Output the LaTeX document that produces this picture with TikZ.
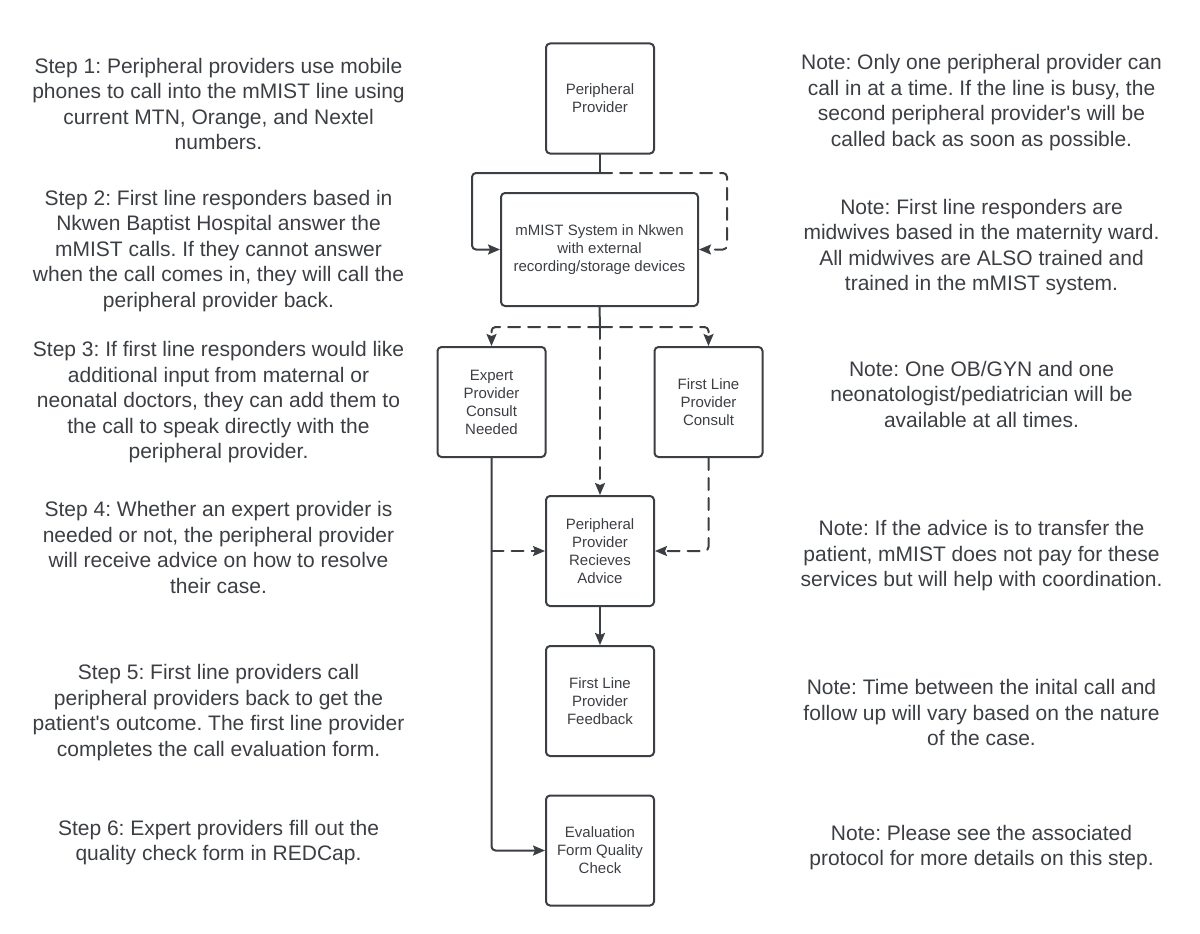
\documentclass[tikz,border=0pt]{standalone}
\usepackage{fontspec}
\setmainfont{Liberation Sans}
\usetikzlibrary{arrows.meta}
\definecolor{ink}{HTML}{3B3E43}
\frenchspacing
\begin{document}
\begin{tikzpicture}[x=1pt, y=-1pt, line join=round, line cap=round,
 >={Stealth[length=12pt,width=10pt,inset=2pt]},
 box/.style={draw=ink, line width=2pt, rounded corners=4pt, minimum width=108pt, minimum height=110pt,
  align=center, text=ink, inner sep=2pt, font=\fontsize{15}{18}\selectfont},
 side/.style={align=center, text=ink, font=\fontsize{21}{25.5}\selectfont},
 link/.style={draw=ink, line width=2pt, rounded corners=4pt, ->},
 dlink/.style={link, dash pattern=on 12pt off 8pt}]
 \useasboundingbox (0,0) rectangle (1200,934);
 % flow boxes
 \node[box] (pp) at (600,98.5) {Peripheral\\Provider};
 \node[box, minimum width=197pt, minimum height=113pt] (mm) at (599.5,249.5) {mMIST System in Nkwen\\with external\\recording/storage devices};
 \node[box] (ex) at (491.5,402) {Expert\\Provider\\Consult\\Needed};
 \node[box] (fc) at (708.5,402) {First Line\\Provider\\Consult};
 \node[box] (ra) at (600,551) {Peripheral\\Provider\\Recieves\\Advice};
 \node[box] (fb) at (600,701) {First Line\\Provider\\Feedback};
 \node[box] (ev) at (600,850.5) {Evaluation\\Form Quality\\Check};
 \coordinate (sp1) at (600,173);
 \coordinate (sp2) at (600,327);
 % connectors
 \draw[link,-] (pp.south) -- (sp1);
 \draw[link] (sp1) -| ([xshift=-28pt]mm.west) -- (mm.west);
 \draw[dlink] (sp1) -| ([xshift=28pt]mm.east) -- (mm.east);
 \draw[link,-] (mm.south) -- (sp2);
 \draw[dlink] (sp2) -| (ex.north);
 \draw[dlink] (sp2) -| (fc.north);
 \draw[dlink] (sp2) -- (ra.north);
 \draw[link] (ex.south) |- (ev.west);
 \draw[dlink] (ex.south |- ra.west) -- (ra.west);
 \draw[dlink] (fc.south) |- (ra.east);
 \draw[link] (ra.south) -- (fb.north);
 % steps
 \node[side] (s1) at (218.5,104) {Step 1: Peripheral providers use mobile\\phones to call into the mMIST line using\\current MTN, Orange, and Nextel\\numbers.};
 \node[side] (s2) at (218.5,251) {Step 2: First line responders based in\\Nkwen Baptist Hospital answer the\\mMIST calls. If they cannot answer\\when the call comes in, they will call the\\peripheral provider back.};
 \node[side] (s3) at (218.5,402.5) {Step 3: If first line responders would like\\additional input from maternal or\\neonatal doctors, they can add them to\\the call to speak directly with the\\peripheral provider.};
 \node[side] (s4) at (218.5,547.5) {Step 4: Whether an expert provider is\\needed or not, the peripheral provider\\will receive advice on how to resolve\\their case.};
 \node[side] (s5) at (218.5,712.5) {Step 5: First line providers call\\peripheral providers back to get the\\patient\textquotesingle s outcome. The first line provider\\completes the call evaluation form.};
 \node[side] (s6) at (218.5,842.5) {Step 6: Expert providers fill out the\\quality check form in REDCap.};
 % notes
 \node[side] (n1) at (981.5,102.5) {Note: Only one peripheral provider can\\call in at a time. If the line is busy, the\\second peripheral provider\textquotesingle s will be\\called back as soon as possible.};
 \node[side] (n2) at (981.5,247) {Note: First line responders are\\midwives based in the maternity ward.\\All midwives are ALSO trained and\\trained in the mMIST system.};
 \node[side] (n3) at (981.5,394) {Note: One OB/GYN and one\\neonatologist/pediatrician will be\\available at all times.};
 \node[side] (n4) at (981.5,556) {Note: If the advice is to transfer the\\patient, mMIST does not pay for these\\services but will help with coordination.};
 \node[side] (n5) at (981.5,712.5) {Note: Time between the inital call and\\follow up will vary based on the nature\\of the case.};
 \node[side] (n6) at (981.5,847.5) {Note: Please see the associated\\protocol for more details on this step.};
\end{tikzpicture}
\end{document}
